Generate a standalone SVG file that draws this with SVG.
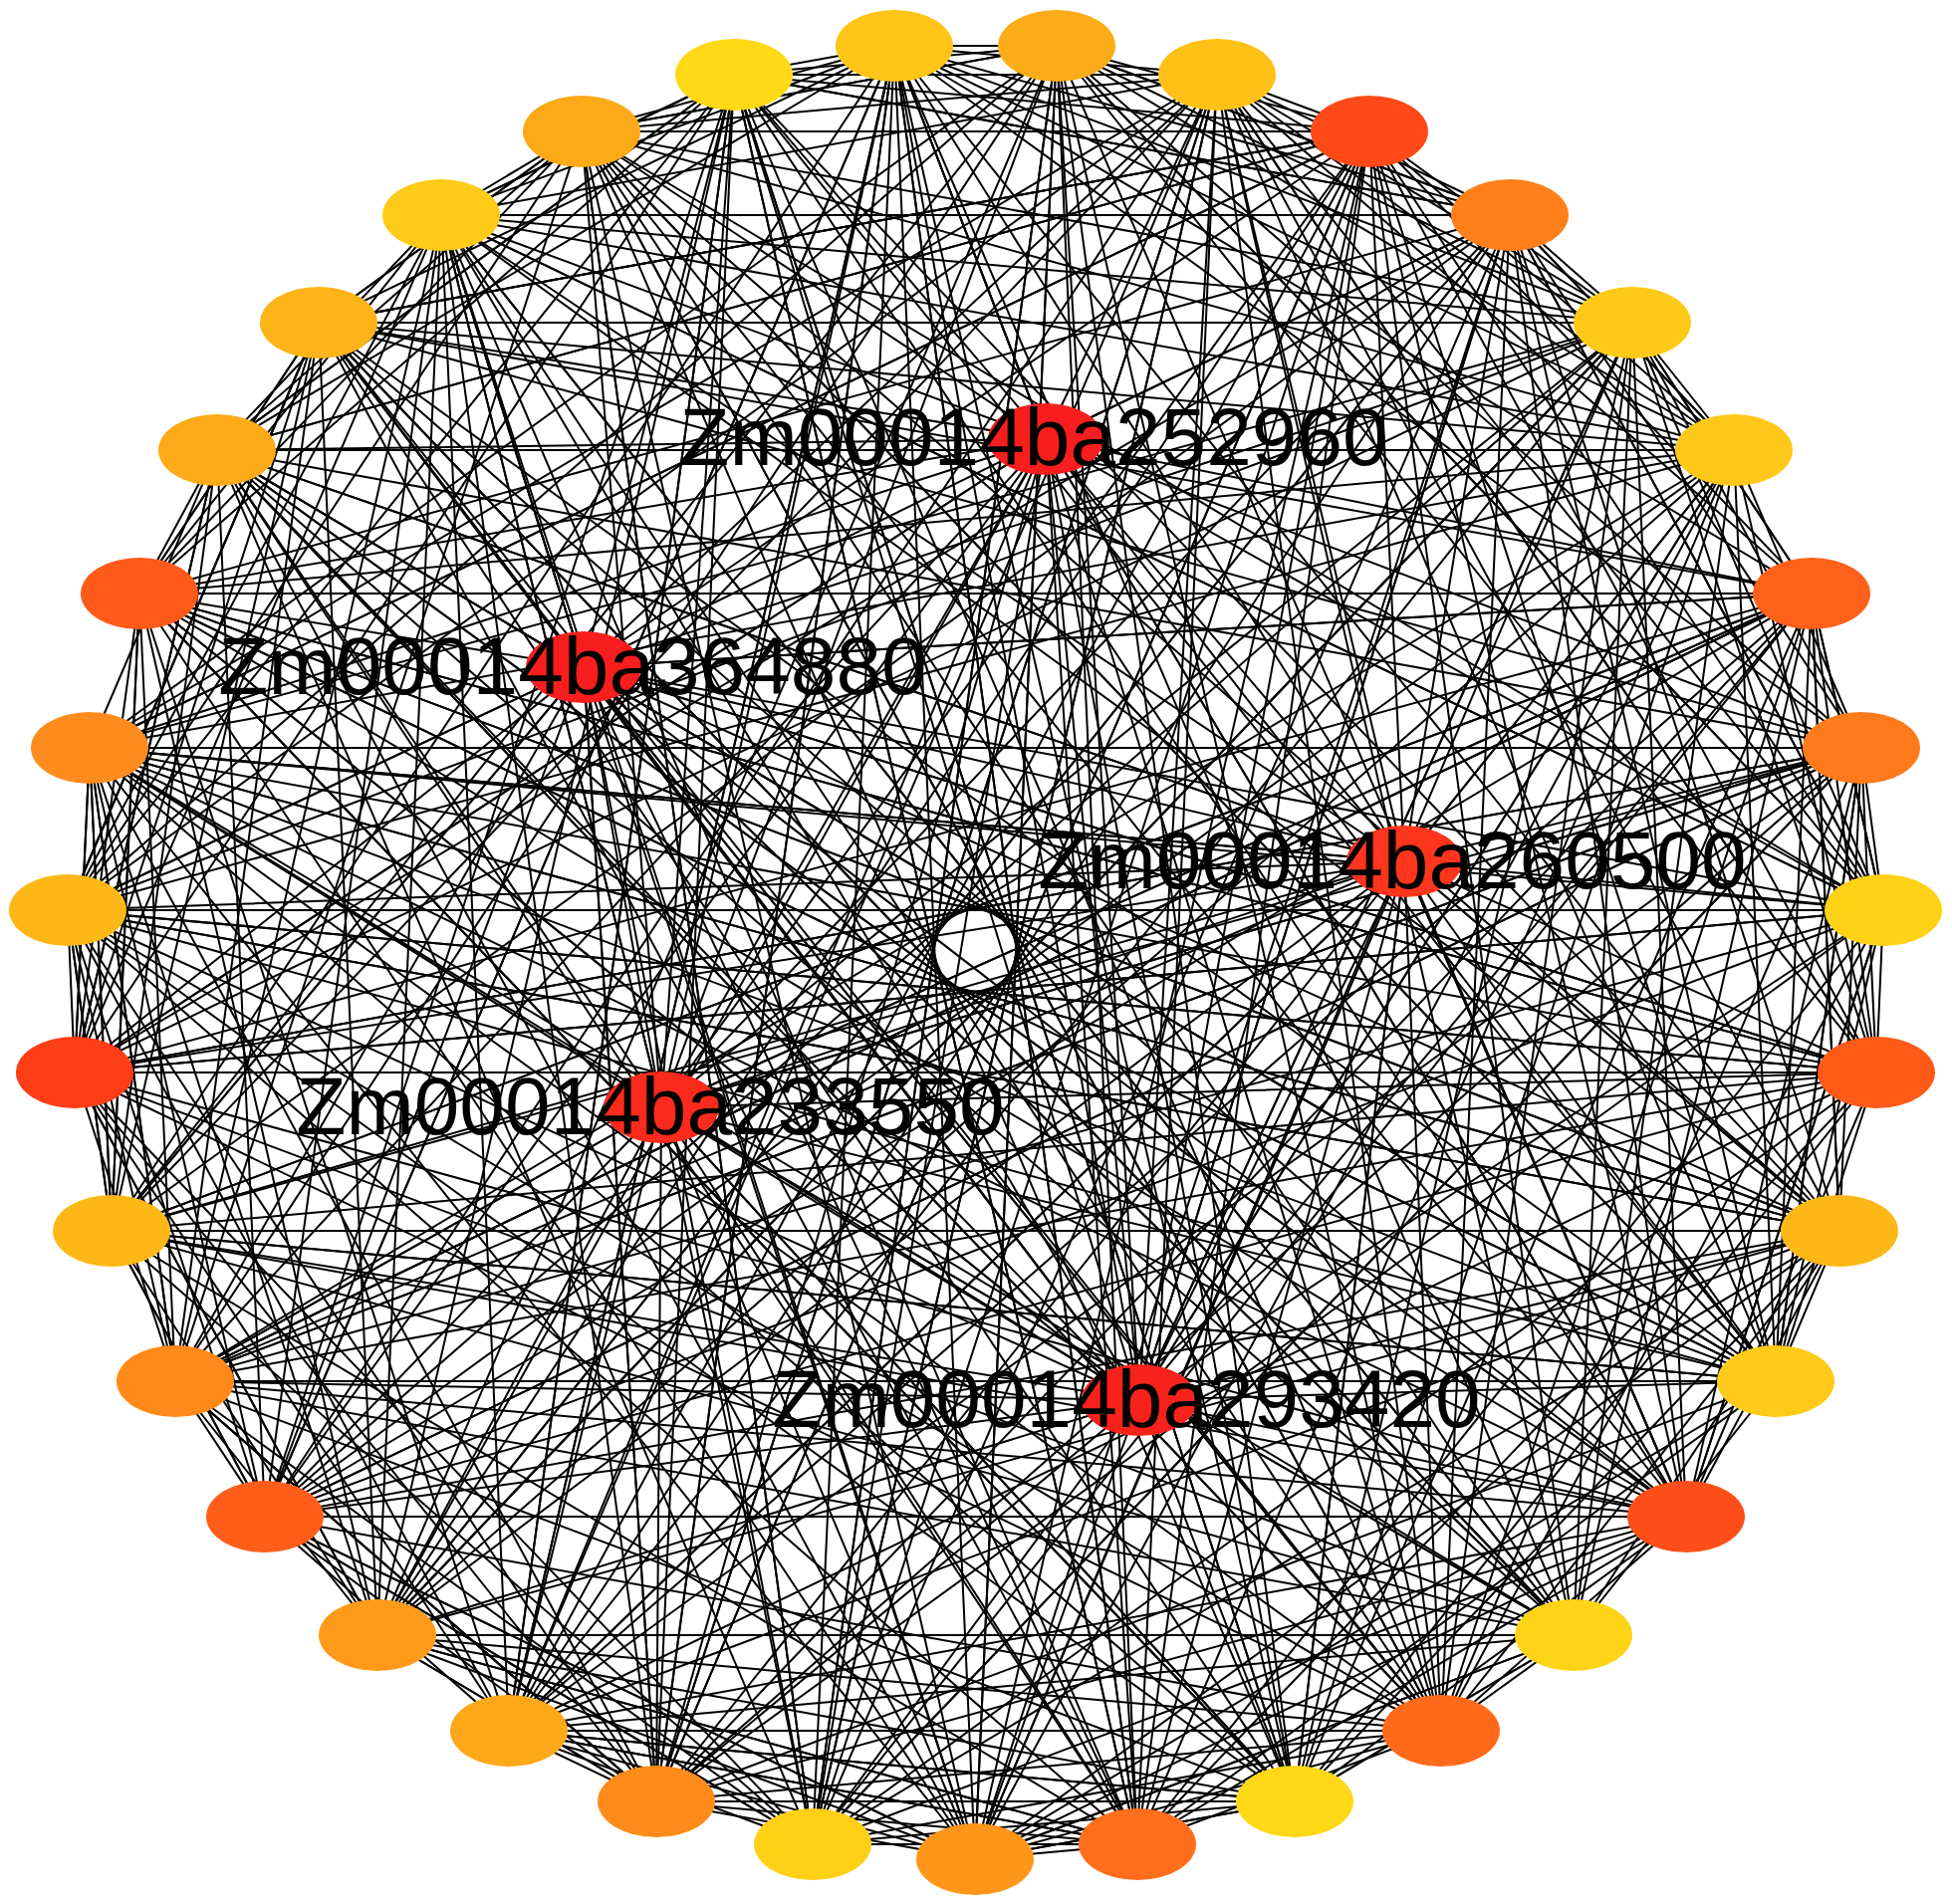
<svg xmlns="http://www.w3.org/2000/svg" width="1960" height="1912" viewBox="0 0 1960 1912">
<style>
.e{fill:none;stroke:#000;stroke-width:2;stroke-linejoin:bevel}
.n{stroke:none}
.lbl{font-family:"Liberation Sans",Arial,Helvetica,sans-serif;font-size:82px;fill:#000;text-anchor:middle}
</style>
<rect width="1960" height="1912" fill="#fff"/>
<g id="edges">
<path class="e" d="M1061 46L979 1867 898 46 1142 1852 737 75 1300 1809 584 132 1447 1738 443 216 1580 1642 320 324 1693 1523 218 452 1783 1387 140 596 1847 1236 90 751 1884 1077 68 914 1891 914 75 1077 1869 751 112 1236 1819 596 176 1387 1741 452 266 1523 1639 324 379 1642 1516 216 511 1738 1375 132 659 1809 1222 75 816 1852 1061 46"/>
<path class="e" d="M1061 46H898M1222 75H737M1375 132H584M1516 216H443M1639 324H320M1741 452H218M1819 596H140M1869 751H90M1884 1077H75M1847 1236H112M1783 1387H176M1693 1523H266M1580 1642H379M1447 1738H511M1300 1809H659M1142 1852H816"/>
<path class="e" d="M1061 46L1516 216 1783 1387 218 452 75 1077 1891 914 1447 1738 90 751 1375 132 979 1867 266 1523 443 216 1741 452 1884 1077 511 1738 737 75 1693 1523 1142 1852 1222 75 112 1236 320 324 1869 751 659 1809 68 914 1639 324 1580 1642 898 46 1847 1236 379 1642 140 596 1819 596 1300 1809 176 1387 584 132 816 1852 1061 46"/>
<path class="e" d="M1222 75L1819 596 1580 1642 320 324 1375 132 1884 1077 176 1387 90 751 1783 1387 659 1809 898 46 1741 452 1142 1852 511 1738 140 596 1516 216 1447 1738 75 1077 443 216 1891 914 1693 1523 112 1236 1061 46 1869 751 816 1852 218 452 737 75 1847 1236 1300 1809 68 914 584 132 1639 324 379 1642 979 1867 266 1523 1222 75"/>
<path class="e" d="M1375 132L1639 324 1300 1809 140 596 737 75 1447 1738 379 1642 320 324 1819 596 1847 1236 90 751 1061 46 1693 1523 659 1809 75 1077 1516 216 1891 914 266 1523 68 914 1741 452 979 1867 218 452 1783 1387 1580 1642 443 216 1222 75 1884 1077 1142 1852 112 1236 898 46 511 1738 1869 751 176 1387 816 1852 584 132 1375 132"/>
<path class="e" d="M1516 216L1869 751 266 1523 112 1236 1884 1077 1693 1523 140 596 443 216 1142 1852 816 1852 1222 75 1447 1738 218 452 898 46 659 1809 176 1387 1819 596 1783 1387 68 914 1061 46 1300 1809 979 1867 584 132 1847 1236 511 1738 75 1077 1639 324 1891 914 90 751 1580 1642 379 1642 737 75 1375 132 320 324 1741 452 1516 216"/>
<path class="e" d="M1639 324L1693 1523 979 1867 443 216 737 75 511 1738 68 914 1884 1077 1222 75 1783 1387 1142 1852 320 324 176 1387 75 1077 1869 751 1447 1738 1061 46 379 1642 112 1236 1819 596 659 1809 90 751 1375 132 1580 1642 1300 1809 140 596 1847 1236 816 1852 898 46 266 1523 218 452 1741 452 584 132 1891 914 1516 216 1639 324"/>
<path class="e" d="M1741 452L1580 1642 112 1236 68 914 1847 1236 1447 1738 584 132 1061 46 1884 1077 266 1523 90 751 1693 1523 511 1738 443 216 1516 216 979 1867 659 1809 1222 75 1891 914 176 1387 140 596 1300 1809 379 1642 1639 324 1819 596 816 1852 75 1077 737 75 1142 1852 218 452 1375 132 1783 1387 320 324 898 46 1869 751 1741 452"/>
<path class="e" d="M1819 596L1884 1077 75 1077 218 452 1447 1738 659 1809 737 75 1516 216 1847 1236 112 1236 140 596 1783 1387 979 1867 90 751 1222 75 1639 324 511 1738 266 1523 1869 751 1693 1523 584 132 898 46 1300 1809 816 1852 1375 132 1142 1852 68 914 320 324 1580 1642 176 1387 1061 46 1741 452 379 1642 443 216 1891 914 1819 596"/>
<path class="e" d="M1869 751L1847 1236 68 914 737 75 1783 1387 112 1236 218 452 1580 1642 979 1867 1061 46 1891 914 659 1809 379 1642 1375 132 1693 1523 176 1387 443 216 1639 324 1884 1077 140 596 320 324 1447 1738 1142 1852 898 46 1516 216 816 1852 266 1523 1819 596 75 1077 90 751 1300 1809 511 1738 1222 75 584 132 1783 1387"/>
<path class="e" d="M1891 914L1142 1852 379 1642 90 751 1741 452 1300 1809 737 75 1222 75 1580 1642 75 1077 140 596 1884 1077 816 1852 112 1236 1516 216 1693 1523 218 452 443 216 1847 1236 266 1523 898 46 1639 324 979 1867 511 1738 1819 596 1447 1738 68 914 320 324 1375 132 659 1809 176 1387 1869 751 1783 1387 584 132 1061 46 1891 914"/>
<path class="e" d="M1884 1077L1300 1809 320 324 584 132 1580 1642 511 1738 898 46 1819 596 176 1387 68 914 1222 75 1847 1236 979 1867 140 596 1741 452 1783 1387 112 1236 90 751 1639 324 1447 1738 266 1523 737 75 1061 46 1142 1852 659 1809 443 216 1516 216 379 1642 75 1077 1693 1523 816 1852 1869 751 218 452 1375 132 1891 914 1884 1077"/>
<path class="e" d="M1061 46L1375 132 1222 75 1516 216 1741 452 1639 324 1819 596 1891 914 1869 751 1884 1077 1783 1387 1847 1236 1693 1523 1447 1738 1580 1642 1300 1809 979 1867 1142 1852 816 1852 511 1738 659 1809 379 1642 176 1387 266 1523 112 1236 68 914 75 1077 90 751 218 452 140 596 320 324 584 132 443 216 737 75 898 46 1061 46"/>
<path class="e" d="M1222 75L1741 452 1375 132 1819 596 1847 1236 1580 1642 979 1867 1447 1738 816 1852 266 1523 659 1809 176 1387 90 751 112 1236 140 596 584 132 218 452 737 75 1516 216 1061 46 1639 324 1869 751 1783 1387 1891 914 1693 1523 1300 1809 511 1738 1142 1852 379 1642 75 1077 320 324 68 914 443 216 898 46 1222 75"/>
<path class="e" d="M1050 441L75 1077 586 670 1375 132 1410 865 511 1738 664 1112 1819 596 1144 1406 320 324 1050 441 1447 1738 586 670 1884 1077 1410 865 90 751 664 1112 1061 46 1144 1406 737 75 1050 441 816 1852 586 670 1693 1523 1410 865 176 1387 664 1112 1639 324 1144 1406 140 596 1050 441 1891 914 586 670 1142 1852 1410 865 443 216 664 1112 1783 1387 1144 1406 379 1642 1050 441"/>
<path class="e" d="M1050 441L218 452 1410 865 1741 452 1144 1406 112 1236 586 670 659 1809 664 1112 898 46 1050 441 1783 1387 1410 865 1516 216 1144 1406 68 914 586 670 1580 1642 664 1112 1869 751 1050 441 511 1738 1410 865 979 1867 1144 1406 1222 75 586 670 737 75 664 1112 1300 1809 1050 441 90 751 1410 865 1847 1236 1144 1406 443 216 586 670 1819 596 664 1112 266 1523 1050 441"/>
<path class="e" d="M1050 441L584 132 664 1112 979 1867 586 670 140 596 1144 1406 1891 914 1410 865 75 1077 1050 441 1516 216 664 1112 1580 1642 586 670 266 1523 1144 1406 1300 1809 1410 865 898 46 1050 441 1142 1852 664 1112 443 216 586 670 1639 324 1144 1406 659 1809 1410 865 1693 1523 1050 441 176 1387 664 1112 1884 1077 586 670 320 324 1144 1406 1741 452 1410 865 1222 75 1050 441"/>
<path class="e" d="M586 670L68 914 1410 865 218 452 664 1112 1375 132 1144 1406 1693 1523 1050 441 1819 596 586 670 1447 1738 1410 865 379 1642 664 1112 90 751 1144 1406 898 46 1050 441 659 1809 586 670 112 1236 1410 865 1869 751 664 1112 816 1852 1144 1406 1516 216 1050 441 443 216 586 670 1847 1236 1410 865 1300 1809 664 1112 218 452 1144 1406 176 1387 586 670"/>
<path class="e" d="M1050 441L586 670 1410 865 664 1112 1144 1406 1050 441 1410 865 1144 1406 586 670 664 1112 1050 441"/>
</g>
<g id="nodes">
<g id="n0"><ellipse class="n" cx="1061" cy="46" rx="59" ry="36" fill="#FBAC18"/></g>
<g id="n1"><ellipse class="n" cx="1222" cy="75" rx="59" ry="36" fill="#FFC118"/></g>
<g id="n2"><ellipse class="n" cx="1375" cy="132" rx="59" ry="36" fill="#FF4A17"/></g>
<g id="n3"><ellipse class="n" cx="1516" cy="216" rx="59" ry="36" fill="#FF801B"/></g>
<g id="n4"><ellipse class="n" cx="1639" cy="324" rx="59" ry="36" fill="#FFC918"/></g>
<g id="n5"><ellipse class="n" cx="1741" cy="452" rx="59" ry="36" fill="#FFC818"/></g>
<g id="n6"><ellipse class="n" cx="1819" cy="596" rx="59" ry="36" fill="#FF601A"/></g>
<g id="n7"><ellipse class="n" cx="1869" cy="751" rx="59" ry="36" fill="#FF7A1A"/></g>
<g id="n8"><ellipse class="n" cx="1891" cy="914" rx="59" ry="36" fill="#FFD216"/></g>
<g id="n9"><ellipse class="n" cx="1884" cy="1077" rx="59" ry="36" fill="#FF5A18"/></g>
<g id="n10"><ellipse class="n" cx="1847" cy="1236" rx="59" ry="36" fill="#FDB817"/></g>
<g id="n11"><ellipse class="n" cx="1783" cy="1387" rx="59" ry="36" fill="#FFCB18"/></g>
<g id="n12"><ellipse class="n" cx="1693" cy="1523" rx="59" ry="36" fill="#FF4E17"/></g>
<g id="n13"><ellipse class="n" cx="1580" cy="1642" rx="59" ry="36" fill="#FFD316"/></g>
<g id="n14"><ellipse class="n" cx="1447" cy="1738" rx="59" ry="36" fill="#FF6A1A"/></g>
<g id="n15"><ellipse class="n" cx="1300" cy="1809" rx="59" ry="36" fill="#FFD816"/></g>
<g id="n16"><ellipse class="n" cx="1142" cy="1852" rx="59" ry="36" fill="#FF6E1B"/></g>
<g id="n17"><ellipse class="n" cx="979" cy="1867" rx="59" ry="36" fill="#FF961A"/></g>
<g id="n18"><ellipse class="n" cx="816" cy="1852" rx="59" ry="36" fill="#FFD016"/></g>
<g id="n19"><ellipse class="n" cx="659" cy="1809" rx="59" ry="36" fill="#FF8C1A"/></g>
<g id="n20"><ellipse class="n" cx="511" cy="1738" rx="59" ry="36" fill="#FDA819"/></g>
<g id="n21"><ellipse class="n" cx="379" cy="1642" rx="59" ry="36" fill="#FF9A1A"/></g>
<g id="n22"><ellipse class="n" cx="266" cy="1523" rx="59" ry="36" fill="#FF5E1A"/></g>
<g id="n23"><ellipse class="n" cx="176" cy="1387" rx="59" ry="36" fill="#FF8A1A"/></g>
<g id="n24"><ellipse class="n" cx="112" cy="1236" rx="59" ry="36" fill="#FDB817"/></g>
<g id="n25"><ellipse class="n" cx="75" cy="1077" rx="59" ry="36" fill="#FF3D17"/></g>
<g id="n26"><ellipse class="n" cx="68" cy="914" rx="59" ry="36" fill="#FDB817"/></g>
<g id="n27"><ellipse class="n" cx="90" cy="751" rx="59" ry="36" fill="#FF8C1C"/></g>
<g id="n28"><ellipse class="n" cx="140" cy="596" rx="59" ry="36" fill="#FF5A1A"/></g>
<g id="n29"><ellipse class="n" cx="218" cy="452" rx="59" ry="36" fill="#FDAA19"/></g>
<g id="n30"><ellipse class="n" cx="320" cy="324" rx="59" ry="36" fill="#FDB419"/></g>
<g id="n31"><ellipse class="n" cx="443" cy="216" rx="59" ry="36" fill="#FFCA18"/></g>
<g id="n32"><ellipse class="n" cx="584" cy="132" rx="59" ry="36" fill="#FCAA17"/></g>
<g id="n33"><ellipse class="n" cx="737" cy="75" rx="59" ry="36" fill="#FFD916"/></g>
<g id="n34"><ellipse class="n" cx="898" cy="46" rx="59" ry="36" fill="#FFC416"/></g>
<g id="Zm00014ba252960"><ellipse class="n" cx="1050" cy="441" rx="58" ry="36" fill="#F81E1E"/><text class="lbl" x="1038" y="467">Zm00014ba252960</text></g>
<g id="Zm00014ba364880"><ellipse class="n" cx="586" cy="670" rx="58" ry="36" fill="#F81E1E"/><text class="lbl" x="575" y="697">Zm00014ba364880</text></g>
<g id="Zm00014ba260500"><ellipse class="n" cx="1410" cy="865" rx="58" ry="36" fill="#FF351D"/><text class="lbl" x="1398" y="892">Zm00014ba260500</text></g>
<g id="Zm00014ba233550"><ellipse class="n" cx="664" cy="1112" rx="58" ry="36" fill="#FA2A1C"/><text class="lbl" x="653" y="1139">Zm00014ba233550</text></g>
<g id="Zm00014ba293420"><ellipse class="n" cx="1144" cy="1406" rx="58" ry="36" fill="#F8221C"/><text class="lbl" x="1131" y="1433">Zm00014ba293420</text></g>
</g>
</svg>
